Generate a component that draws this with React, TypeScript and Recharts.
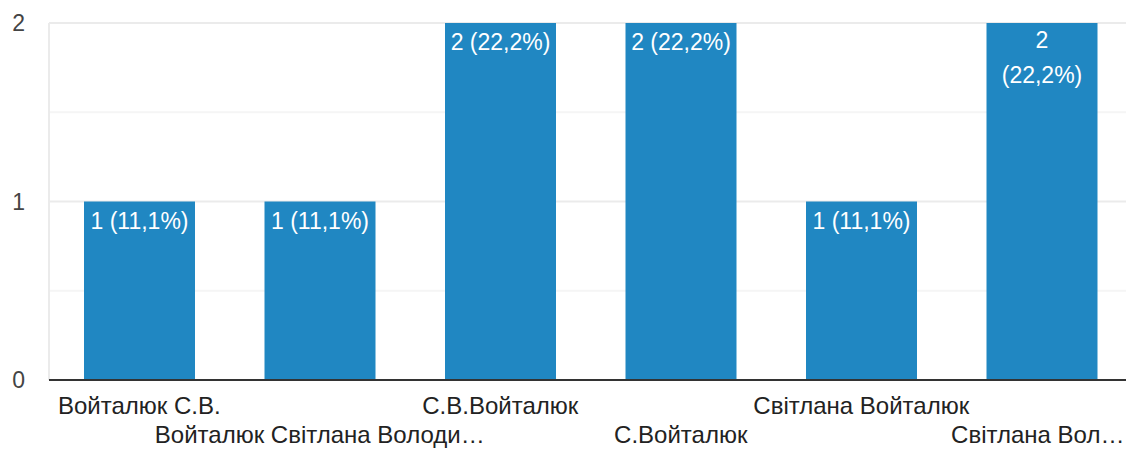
import { BarChart, Bar, XAxis, YAxis, CartesianGrid, LabelList } from "recharts";

const categories = [
  "Войталюк С.В.",
  "Войталюк Світлана Володи…",
  "С.В.Войталюк",
  "С.Войталюк",
  "Світлана Войталюк",
  "Світлана Вол…",
];
const counts = [1, 1, 2, 2, 1, 2];
const yTicks = [0, 0.5, 1, 1.5, 2];
const majorLines = [1, 2];
const minorLines = [0.5, 1.5];

const total = counts.reduce((a, b) => a + b, 0);
const data = categories.map((name, i) => ({ name, count: counts[i] }));

const FONT = '"Liberation Sans", Arial, sans-serif';
const BLUE = "#2087c2";

const pct = (v: number) => ((v / total) * 100).toFixed(1).replace(".", ",") + "%";

const YTick = (props: any) => {
  const { y, payload } = props;
  if (!Number.isInteger(payload.value)) return null;
  return (
    <text x={25} y={y} dy={8} textAnchor="end" fill="#444" fontSize={23} fontFamily={FONT}>
      {payload.value}
    </text>
  );
};

// labels alternate between two rows; last one nudged left so it stays inside
const XTick = (props: any) => {
  const { x, y, payload, index } = props;
  const off = index % 2 === 0 ? 26 : 55;
  const dx = index === categories.length - 1 ? -4 : 0;
  return (
    <text x={x} y={y} dx={dx} dy={off} textAnchor="middle" fill="#222" fontSize={24} fontFamily={FONT}>
      {payload.value}
    </text>
  );
};

const BarLabel = (props: any) => {
  const { x, y, width, value, index } = props;
  const cx = x + width / 2;
  const style = { fill: "#fff", fontSize: 23, fontFamily: FONT };
  // last bar wraps onto two lines in the original
  if (index === counts.length - 1) {
    return (
      <text x={cx} y={y + 25} textAnchor="middle" {...style}>
        <tspan x={cx}>{value}</tspan>
        <tspan x={cx} dy={35}>({pct(value)})</tspan>
      </text>
    );
  }
  return (
    <text x={cx} y={y + 27} textAnchor="middle" {...style}>
      {`${value} (${pct(value)})`}
    </text>
  );
};

export default function App() {
  return (
    <div style={{ position: "absolute", left: 0, top: 0, width: 1126, height: 450, overflow: "hidden", background: "#fff" }}>
      <BarChart width={1132} height={450} data={data} margin={{ top: 23, right: 0, left: 0, bottom: 0 }}>
        <CartesianGrid vertical={false} horizontalValues={minorLines} stroke="#f5f5f5" strokeWidth={2} />
        <CartesianGrid vertical={false} horizontalValues={majorLines} stroke="#ebebeb" strokeWidth={2} />
        <YAxis
          width={49}
          domain={[0, 2]}
          ticks={yTicks}
          interval={0}
          tick={<YTick />}
          tickLine={false}
          axisLine={{ stroke: "#ebebeb", strokeWidth: 2 }}
        />
        <XAxis
          dataKey="name"
          height={70}
          interval={0}
          tick={<XTick />}
          tickLine={false}
          axisLine={{ stroke: "#333", strokeWidth: 2 }}
        />
        <Bar dataKey="count" fill={BLUE} barSize={111} isAnimationActive={false}>
          <LabelList dataKey="count" content={<BarLabel />} />
        </Bar>
      </BarChart>
    </div>
  );
}
